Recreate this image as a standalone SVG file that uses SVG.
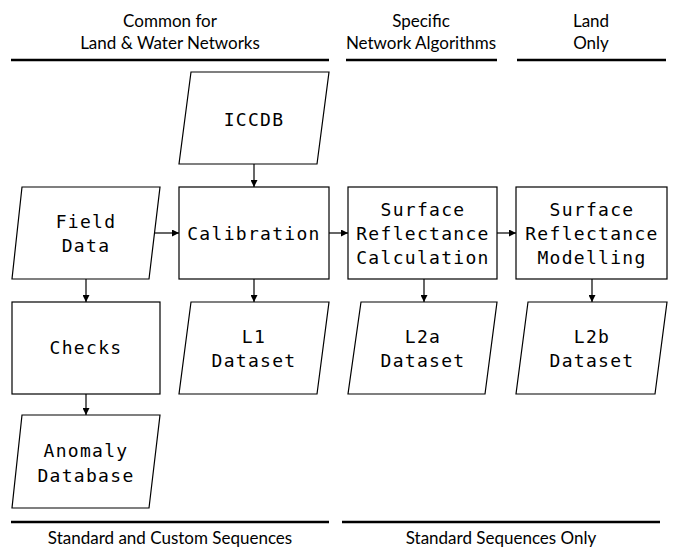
<svg xmlns="http://www.w3.org/2000/svg" width="678" height="558" viewBox="0 0 678 558">
<style>
.n{fill:#fff;stroke:#000;stroke-width:1.2}
.t{font-family:"DejaVu Sans Mono","Liberation Mono",monospace;font-size:18px;letter-spacing:1.3px;text-anchor:middle;fill:#000}
.h{font-family:Lato,"Open Sans","Liberation Sans",sans-serif;font-size:17px;text-anchor:middle;fill:#000}
.rule{stroke:#000;stroke-width:2.5}
.c{stroke:#000;stroke-width:1.2;fill:none;marker-end:url(#a)}
</style>
<defs>
<marker id="a" viewBox="0 0 8 8" refX="8" refY="4" markerWidth="7" markerHeight="7" markerUnits="userSpaceOnUse" orient="auto">
<path d="M0,0 L8,4 L0,8 z" fill="#000"/>
</marker>
</defs>
<rect width="678" height="558" fill="#fff"/>
<g id="headers">
<text class="h" x="170" y="27">Common for</text>
<text class="h" x="170" y="49">Land &amp; Water Networks</text>
<text class="h" x="421" y="27">Specific</text>
<text class="h" x="421" y="49">Network Algorithms</text>
<text class="h" x="591" y="27">Land</text>
<text class="h" x="591" y="49">Only</text>
<line class="rule" x1="11" y1="60" x2="329" y2="60"/>
<line class="rule" x1="346" y1="60" x2="497" y2="60"/>
<line class="rule" x1="517" y1="60" x2="666" y2="60"/>
<line class="rule" x1="11" y1="522" x2="329" y2="522"/>
<line class="rule" x1="342" y1="522" x2="660" y2="522"/>
<text class="h" x="170" y="544">Standard and Custom Sequences</text>
<text class="h" x="501" y="544">Standard Sequences Only</text>
</g>
<g id="connectors">
<line class="c" x1="254" y1="164" x2="254" y2="187"/>
<line class="c" x1="155" y1="233" x2="179" y2="233"/>
<line class="c" x1="329" y1="233" x2="348" y2="233"/>
<line class="c" x1="497" y1="233" x2="516" y2="233"/>
<line class="c" x1="86" y1="279" x2="86" y2="302"/>
<line class="c" x1="254" y1="279" x2="254" y2="302"/>
<line class="c" x1="424" y1="279" x2="424" y2="302"/>
<line class="c" x1="592" y1="279" x2="592" y2="302"/>
<line class="c" x1="86" y1="394" x2="86" y2="415"/>
</g>
<g id="iccdb">
<polygon class="n" points="191,72 329,72 317,164 179,164"/>
<text class="t" x="254" y="126">ICCDB</text>
</g>
<g id="field-data">
<polygon class="n" points="22,187 160,187 149,279 12,279"/>
<text class="t" x="86" y="228">Field</text>
<text class="t" x="86" y="252">Data</text>
</g>
<g id="calibration">
<rect class="n" x="179" y="187" width="150" height="92"/>
<text class="t" x="254" y="240">Calibration</text>
</g>
<g id="src">
<rect class="n" x="348" y="187" width="149" height="92"/>
<text class="t" x="423" y="216">Surface</text>
<text class="t" x="423" y="240">Reflectance</text>
<text class="t" x="423" y="264">Calculation</text>
</g>
<g id="srm">
<rect class="n" x="516" y="187" width="151" height="92"/>
<text class="t" x="592" y="216">Surface</text>
<text class="t" x="592" y="240">Reflectance</text>
<text class="t" x="592" y="264">Modelling</text>
</g>
<g id="checks">
<rect class="n" x="12" y="302" width="148" height="92"/>
<text class="t" x="86" y="354">Checks</text>
</g>
<g id="l1">
<polygon class="n" points="191,302 329,302 317,394 179,394"/>
<text class="t" x="254" y="343">L1</text>
<text class="t" x="254" y="367">Dataset</text>
</g>
<g id="l2a">
<polygon class="n" points="361,302 497,302 485,394 348,394"/>
<text class="t" x="423" y="343">L2a</text>
<text class="t" x="423" y="367">Dataset</text>
</g>
<g id="l2b">
<polygon class="n" points="528,302 667,302 655,394 516,394"/>
<text class="t" x="592" y="343">L2b</text>
<text class="t" x="592" y="367">Dataset</text>
</g>
<g id="anomaly">
<polygon class="n" points="22,415 160,415 149,508 12,508"/>
<text class="t" x="86" y="457">Anomaly</text>
<text class="t" x="86" y="482">Database</text>
</g>
</svg>
